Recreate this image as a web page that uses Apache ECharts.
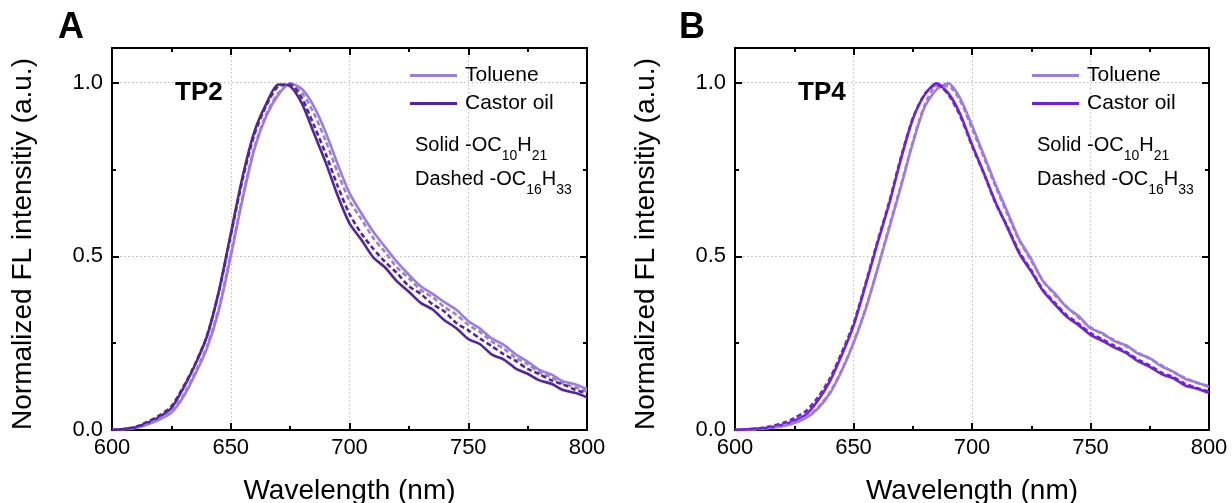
<!DOCTYPE html>
<html>
<head>
<meta charset="utf-8">
<script src="https://cdn.jsdelivr.net/npm/echarts@6/dist/echarts.min.js"></script>
<style>
html,body{margin:0;padding:0;background:#fff;}
#main{width:1232px;height:503px;}
</style>
</head>
<body>
<div id="main"></div>
<script>
// wavelength (nm), 5 nm step
var wavelength = [600,605,610,615,620,625,630,635,640,645,650,655,660,665,670,675,680,685,690,695,700,
                  705,710,715,720,725,730,735,740,745,750,755,760,765,770,775,780,785,790,795,800];

// panel A - TP2
var aTol10 = [0,0.002,0.006,0.016,0.03,0.05,0.095,0.16,0.235,0.345,0.50,0.665,0.81,0.905,0.965,0.998,0.982,0.932,0.857,0.766,0.682,
              0.624,0.571,0.527,0.484,0.447,0.414,0.392,0.368,0.346,0.314,0.292,0.263,0.245,0.218,0.197,0.173,0.16,0.14,0.132,0.118];
var aTol16 = [0,0.002,0.007,0.018,0.033,0.054,0.1,0.166,0.242,0.352,0.507,0.672,0.815,0.91,0.97,0.997,0.97,0.912,0.832,0.742,0.66,
              0.607,0.553,0.512,0.468,0.437,0.403,0.382,0.354,0.332,0.303,0.282,0.254,0.234,0.208,0.19,0.166,0.152,0.134,0.123,0.111];
var aCas10 = [0,0.003,0.008,0.021,0.038,0.063,0.12,0.188,0.27,0.40,0.565,0.73,0.86,0.94,0.995,0.99,0.94,0.855,0.77,0.675,0.595,
              0.548,0.497,0.468,0.428,0.398,0.366,0.347,0.316,0.293,0.262,0.247,0.217,0.203,0.177,0.162,0.143,0.133,0.115,0.107,0.094];
var aCas16 = [0,0.003,0.009,0.024,0.042,0.068,0.124,0.19,0.272,0.398,0.56,0.722,0.852,0.935,0.99,0.995,0.955,0.878,0.795,0.703,0.622,
              0.566,0.522,0.484,0.452,0.414,0.392,0.362,0.341,0.308,0.287,0.263,0.241,0.218,0.199,0.176,0.161,0.143,0.131,0.116,0.106];

// panel B - TP4
var bTol10 = [0,0.001,0.003,0.006,0.011,0.02,0.035,0.062,0.105,0.17,0.25,0.345,0.46,0.58,0.70,0.825,0.93,0.98,0.998,0.955,0.877,
              0.792,0.706,0.627,0.548,0.492,0.428,0.393,0.353,0.328,0.293,0.279,0.256,0.244,0.22,0.207,0.183,0.168,0.147,0.137,0.124];
var bTol16 = [0,0.001,0.003,0.007,0.012,0.022,0.037,0.065,0.108,0.172,0.252,0.348,0.462,0.585,0.705,0.83,0.935,0.99,0.99,0.948,0.868,
              0.785,0.70,0.62,0.545,0.487,0.43,0.388,0.355,0.323,0.296,0.276,0.259,0.241,0.223,0.205,0.186,0.166,0.15,0.135,0.127];
var bCas10 = [0,0.002,0.004,0.008,0.015,0.027,0.045,0.085,0.14,0.215,0.30,0.415,0.535,0.65,0.78,0.895,0.965,0.998,0.97,0.91,0.822,
              0.74,0.655,0.582,0.508,0.456,0.40,0.362,0.326,0.302,0.274,0.257,0.238,0.222,0.198,0.182,0.161,0.149,0.128,0.119,0.107];
var bCas16 = [0,0.002,0.005,0.011,0.02,0.034,0.055,0.094,0.148,0.222,0.306,0.42,0.54,0.655,0.785,0.897,0.967,0.995,0.966,0.905,0.818,
              0.738,0.652,0.585,0.512,0.46,0.403,0.366,0.33,0.306,0.279,0.261,0.243,0.225,0.203,0.186,0.165,0.152,0.133,0.121,0.111];

var xRange = [600, 800];
var yRange = [0, 1.1];
var legendNames = ['Toluene', 'Castor oil'];

var FONT = 'Liberation Sans, Arial, sans-serif';
var colTol = '#9C7DD8';
var colCasA = '#52259E';
var colCasB = '#7321D6';

var chart = echarts.init(document.getElementById('main'));

function pairs(arr) {
    return wavelength.map(function (w, i) { return [w, arr[i]]; });
}

var black = {color: '#000', width: 2};
var dotted = {color: '#bdbdbd', width: 1, type: [1.5, 2.5]};

// fixed plot boxes, no auto-shrinking for labels
var grids = [
    {left: 112, top: 48, width: 475, height: 382, containLabel: false, outerBoundsMode: 'none'},
    {left: 735, top: 48, width: 474, height: 382, containLabel: false, outerBoundsMode: 'none'}
];

var xAxes = [], yAxes = [];
grids.forEach(function (g, gi) {
    // bottom: labels + grid lines
    xAxes.push({
        type: 'value', gridIndex: gi, position: 'bottom', min: xRange[0], max: xRange[1], interval: 50,
        axisLine: {onZero: false, lineStyle: black},
        axisTick: {inside: true, length: 7, lineStyle: black},
        minorTick: {show: true, splitNumber: 2, length: 4, lineStyle: black},
        minorSplitLine: {show: false},
        axisLabel: {color: '#000', fontSize: 22, fontFamily: FONT, margin: 7},
        splitLine: {show: true, lineStyle: dotted},
        name: 'Wavelength (nm)', nameLocation: 'middle', nameGap: 47,
        nameTextStyle: {color: '#000', fontSize: 28, fontFamily: FONT}
    });
    // top frame
    xAxes.push({
        type: 'value', gridIndex: gi, position: 'top', min: xRange[0], max: xRange[1], interval: 50,
        axisLine: {onZero: false, lineStyle: black},
        axisTick: {inside: true, length: 7, lineStyle: black},
        minorTick: {show: true, splitNumber: 2, length: 4, lineStyle: black},
        axisLabel: {show: false},
        splitLine: {show: false}
    });
    // left main
    yAxes.push({
        type: 'value', gridIndex: gi, position: 'left', min: yRange[0], max: yRange[1], interval: 0.5,
        axisLine: {onZero: false, lineStyle: black},
        axisTick: {inside: true, length: 7, lineStyle: black},
        axisLabel: {
            color: '#000', fontSize: 22, fontFamily: FONT, margin: 9,
            formatter: function (v) {
                return Math.abs(v * 2 - Math.round(v * 2)) < 1e-6 ? v.toFixed(1) : '';
            }
        },
        splitLine: {show: true, lineStyle: dotted},
        name: 'Normalized FL intensitiy (a.u.)', nameLocation: 'middle', nameGap: 75,
        nameTextStyle: {color: '#000', fontSize: 28, fontFamily: FONT, padding: [0, 10, 0, 0]}
    });
    // left minor ticks
    yAxes.push({
        type: 'value', gridIndex: gi, position: 'left', min: yRange[0], max: yRange[1], interval: 0.25,
        axisLine: {show: false, onZero: false},
        axisTick: {inside: true, length: 4, lineStyle: black},
        axisLabel: {show: false}, splitLine: {show: false}
    });
    // right frame
    yAxes.push({
        type: 'value', gridIndex: gi, position: 'right', min: yRange[0], max: yRange[1], interval: 0.5,
        axisLine: {onZero: false, lineStyle: black},
        axisTick: {inside: true, length: 7, lineStyle: black},
        axisLabel: {show: false}, splitLine: {show: false}
    });
    yAxes.push({
        type: 'value', gridIndex: gi, position: 'right', min: yRange[0], max: yRange[1], interval: 0.25,
        axisLine: {show: false, onZero: false},
        axisTick: {inside: true, length: 4, lineStyle: black},
        axisLabel: {show: false}, splitLine: {show: false}
    });
});

function line(name, data, color, dashed, gi) {
    return {
        name: name, type: 'line', xAxisIndex: gi * 2, yAxisIndex: gi * 4,
        data: pairs(data), showSymbol: false, symbol: 'none', smooth: 0.25,
        lineStyle: {color: color, width: 2.6, type: dashed ? [5, 3] : 'solid'},
        itemStyle: {color: color},
        z: dashed ? 3 : 2
    };
}

var series = [
    line('A Toluene', aTol10, colTol, false, 0),
    line('A Toluene C16', aTol16, colTol, true, 0),
    line('A Castor oil', aCas10, colCasA, false, 0),
    line('A Castor C16', aCas16, colCasA, true, 0),
    line('B Toluene', bTol10, colTol, false, 1),
    line('B Toluene C16', bTol16, colTol, true, 1),
    line('B Castor oil', bCas10, colCasB, false, 1),
    line('B Castor C16', bCas16, colCasB, true, 1)
];

function legendAt(prefix, left) {
    return {
        data: legendNames.map(function (n) { return prefix + ' ' + n; }),
        left: left, top: 65, orient: 'vertical', icon: 'rect',
        itemWidth: 47, itemHeight: 3, itemGap: 7, selectedMode: false, padding: 0,
        formatter: function (n) { return n.slice(2); },
        textStyle: {color: '#000', fontSize: 21, fontFamily: FONT, padding: [0, 0, 0, 3]}
    };
}

var rich = {
    n: {fontSize: 20, lineHeight: 20, verticalAlign: 'top', color: '#000', fontWeight: 'normal', fontFamily: FONT},
    s: {fontSize: 14, lineHeight: 28, verticalAlign: 'bottom', color: '#000', fontWeight: 'normal', fontFamily: FONT}
};

function note(text, left, top, size) {
    return {text: text, left: left, top: top, padding: 0,
        textStyle: {color: '#000', fontSize: size, fontWeight: 'bold', fontFamily: FONT, lineHeight: size}};
}
function formula(text, left, top) {
    return {text: text, left: left, top: top, padding: 0,
        textStyle: {fontWeight: 'normal', rich: rich}};
}

var option = {
    animation: false,
    backgroundColor: '#fff',
    title: [
        note('A', 58, 10, 36),
        note('B', 679, 10, 36),
        note('TP2', 175, 80, 26),
        note('TP4', 798, 80, 26),
        formula('{n|Solid -OC}{s|10}{n|H}{s|21}', 415, 135),
        formula('{n|Dashed -OC}{s|16}{n|H}{s|33}', 415, 169),
        formula('{n|Solid -OC}{s|10}{n|H}{s|21}', 1037, 135),
        formula('{n|Dashed -OC}{s|16}{n|H}{s|33}', 1037, 169)
    ],
    legend: [legendAt('A', 410), legendAt('B', 1032)],
    grid: grids,
    xAxis: xAxes,
    yAxis: yAxes,
    series: series
};
chart.setOption(option);
</script>
</body>
</html>
